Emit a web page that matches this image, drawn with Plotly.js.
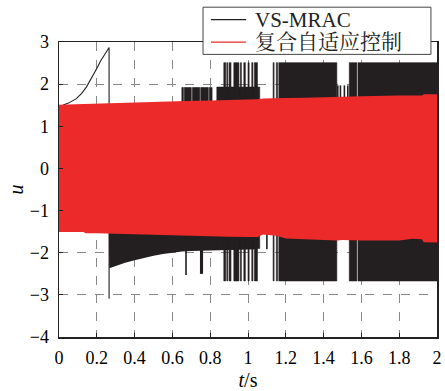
<!DOCTYPE html>
<html><head><meta charset="utf-8">
<script src="https://cdn.plot.ly/plotly-3.0.1.min.js"></script>
<style>html,body{margin:0;padding:0;background:#fff}#c{width:445px;height:391px}</style>
</head><body><div id="c"></div>
<script>
// ---- data ----
// red band (composite adaptive control) envelope
const redT  = [0, 0.13, 0.14, 0.2, 0.4, 0.6, 0.67, 0.8, 0.9, 1.0, 1.05, 1.08, 1.1, 1.15, 1.2, 1.3, 1.47, 1.5, 1.6, 1.8, 1.87, 1.92, 1.93, 2.0];
const redHi = [1.51, 1.53, 1.53, 1.54, 1.57, 1.59, 1.60, 1.61, 1.62, 1.63, 1.64, 1.66, 1.66, 1.66, 1.67, 1.68, 1.69, 1.69, 1.71, 1.73, 1.73, 1.73, 1.76, 1.76];
const redLo = [-1.51, -1.51, -1.54, -1.54, -1.56, -1.59, -1.60, -1.61, -1.62, -1.63, -1.63, -1.57, -1.58, -1.60, -1.66, -1.68, -1.71, -1.70, -1.71, -1.71, -1.67, -1.68, -1.75, -1.76];

// VS-MRAC base oscillation band
const blkT  = [0, 0.264, 0.266, 0.30, 0.35, 0.40, 0.45, 0.50, 0.55, 0.60, 0.65, 0.70, 0.80, 0.90, 1.00, 1.05, 1.055, 1.13, 1.47, 1.535, 2.0];
const blkHi = [1.40, 1.40, 1.40, 1.40, 1.40, 1.40, 1.40, 1.40, 1.40, 1.40, 1.40, 1.40, 1.40, 1.40, 1.40, 1.40, 1.40, 1.40, 1.40, 1.40, 1.40];
const blkLo = [-1.45, -1.45, -2.37, -2.31, -2.24, -2.18, -2.12, -2.07, -2.03, -2.00, -1.97, -1.96, -1.95, -1.93, -1.92, -1.92, -1.50, -1.50, -1.50, -1.50, -1.50];

// VS-MRAC start-up curve and jump
const curveT = [0.02, 0.05, 0.09, 0.12, 0.145, 0.17, 0.20, 0.22, 0.24, 0.255, 0.265, 0.265];
const curveY = [1.50, 1.55, 1.65, 1.78, 1.93, 2.12, 2.37, 2.55, 2.71, 2.80, 2.87, -3.09];

// medium-amplitude chattering blocks
const midT0 = [0.650, 0.663, 0.706, 0.750, 0.795, 0.835];
const midT1 = [0.658, 0.700, 0.745, 0.790, 0.810, 1.062];
const midHi = [1.92, 1.92, 1.92, 1.92, 1.92, 1.93];
const midLo = [-1.50, -1.50, -1.50, -1.50, -1.50, -1.90];

// large-amplitude chattering blocks
const bigT0 = [0.872, 0.888, 0.900, 0.925, 0.960, 0.978, 1.000, 1.020, 1.034, 1.133, 1.150, 1.163, 1.536, 1.582];
const bigT1 = [0.882, 0.893, 0.910, 0.952, 0.965, 0.986, 1.006, 1.026, 1.050, 1.138, 1.156, 1.470, 1.576, 2.000];
const bigHi = 2.51, bigLo = -2.67;

// isolated spikes
const spikeT  = [0.672, 0.750, 0.754, 0.758, 1.100, 1.475, 1.489, 1.510, 1.528];
const spikeHi = [0, 0, 0, 0, 0, 1.97, 1.97, 1.97, 1.97];
const spikeLo = [-2.53, -2.50, -2.50, -2.50, -1.92, 0, 0, 0, 0];

const seriesNames = ['VS-MRAC', '复合自适应控制'];
const xTicks = [0, 0.2, 0.4, 0.6, 0.8, 1, 1.2, 1.4, 1.6, 1.8, 2];
const xTickText = ['0', '0.2', '0.4', '0.6', '0.8', '1', '1.2', '1.4', '1.6', '1.8', '2'];
const yTicks = [-4, -3, -2, -1, 0, 1, 2, 3];

// ---- build traces ----
const BLK = '#231f20', RED = '#ec2a2a';
const COLORS = [BLK, RED];
function rects(t0, t1, hi, lo) {
  const x = [], y = [];
  for (let i = 0; i < t0.length; i++) {
    const h = Array.isArray(hi) ? hi[i] : hi, l = Array.isArray(lo) ? lo[i] : lo;
    x.push(t0[i], t1[i], t1[i], t0[i], t0[i], null);
    y.push(l, l, h, h, l, null);
  }
  return {x, y};
}
const mid = rects(midT0, midT1, midHi, midLo);
const big = rects(bigT0, bigT1, bigHi, bigLo);
const sx = [], sy = [];
spikeT.forEach((t, i) => { sx.push(t, t, null); sy.push(spikeLo[i], spikeHi[i], null); });

const traces = [
  {x: blkT, y: blkLo, mode: 'lines', line: {width: 0, color: BLK}, showlegend: false, hoverinfo: 'skip'},
  {x: blkT, y: blkHi, mode: 'lines', fill: 'tonexty', fillcolor: BLK, line: {width: 0, color: BLK}, showlegend: false, hoverinfo: 'skip'},
  {x: mid.x, y: mid.y, mode: 'lines', fill: 'toself', fillcolor: BLK, line: {width: 0.6, color: BLK}, showlegend: false, hoverinfo: 'skip'},
  {x: big.x, y: big.y, mode: 'lines', fill: 'toself', fillcolor: BLK, line: {width: 0.6, color: BLK}, showlegend: false, hoverinfo: 'skip'},
  {x: sx, y: sy, mode: 'lines', line: {width: 1.6, color: BLK}, showlegend: false, hoverinfo: 'skip'},
  {x: curveT, y: curveY, mode: 'lines', line: {width: 1.1, color: BLK}, showlegend: false, hoverinfo: 'skip', name: seriesNames[0]},
  {x: redT, y: redLo, mode: 'lines', line: {width: 0, color: RED}, showlegend: false, hoverinfo: 'skip'},
  {x: redT, y: redHi, mode: 'lines', fill: 'tonexty', fillcolor: RED, line: {width: 0, color: RED}, showlegend: false, hoverinfo: 'skip', name: seriesNames[1]}
];

const FONT = 'Liberation Serif, "Times New Roman", "Noto Serif CJK SC", "Noto Sans CJK SC", serif';

// legend box drawn in paper coordinates
const LEG = {x0: 0.381, x1: 0.984, y0: 0.958, y1: 1.118, lx0: 0.402, lx1: 0.495, tx: 0.513, rows: [1.076, 0.9995]};
const shapes = [
  {type: 'rect', xref: 'paper', yref: 'paper', x0: LEG.x0, x1: LEG.x1, y0: LEG.y0, y1: LEG.y1,
   fillcolor: '#fff', line: {color: '#444', width: 1}, layer: 'above'}
];
const annotations = [];
seriesNames.forEach((n, i) => {
  shapes.push({type: 'line', xref: 'paper', yref: 'paper', x0: LEG.lx0, x1: LEG.lx1, y0: LEG.rows[i], y1: LEG.rows[i],
               line: {color: COLORS[i], width: 1.2}, layer: 'above'});
  annotations.push({xref: 'paper', yref: 'paper', x: LEG.tx, y: LEG.rows[i], xanchor: 'left', yanchor: 'middle',
                    text: n, showarrow: false, font: {family: FONT, size: 21, color: '#222'}, yshift: 0});
});

const layout = {
  width: 445, height: 391,
  margin: {l: 59, r: 8, t: 42, b: 54},
  paper_bgcolor: '#fff', plot_bgcolor: '#fff',
  font: {family: FONT, size: 18, color: '#000'},
  showlegend: false,
  shapes, annotations,
  xaxis: {range: [0, 2], tickvals: xTicks, ticktext: xTickText, showgrid: true, gridcolor: '#888', griddash: 'dash', gridwidth: 1,
          zeroline: false, showline: true, mirror: true, linecolor: '#222', linewidth: 1.5,
          ticks: 'inside', ticklen: 4, tickcolor: '#222', ticklabelstandoff: 4,
          title: {text: '<i>t</i>/s', font: {family: FONT, size: 20}, standoff: 8}},
  yaxis: {range: [-4, 3], tickvals: yTicks, showgrid: true, gridcolor: '#888', griddash: 'dash', gridwidth: 1,
          zeroline: false, showline: true, mirror: true, linecolor: '#222', linewidth: 1.5,
          ticks: 'inside', ticklen: 4, tickcolor: '#222', ticklabelstandoff: 5,
          title: {text: '<i>u</i>', font: {family: FONT, size: 20}, standoff: 0}}
};
Plotly.newPlot('c', traces, layout, {displayModeBar: false, staticPlot: true});
</script></body></html>
